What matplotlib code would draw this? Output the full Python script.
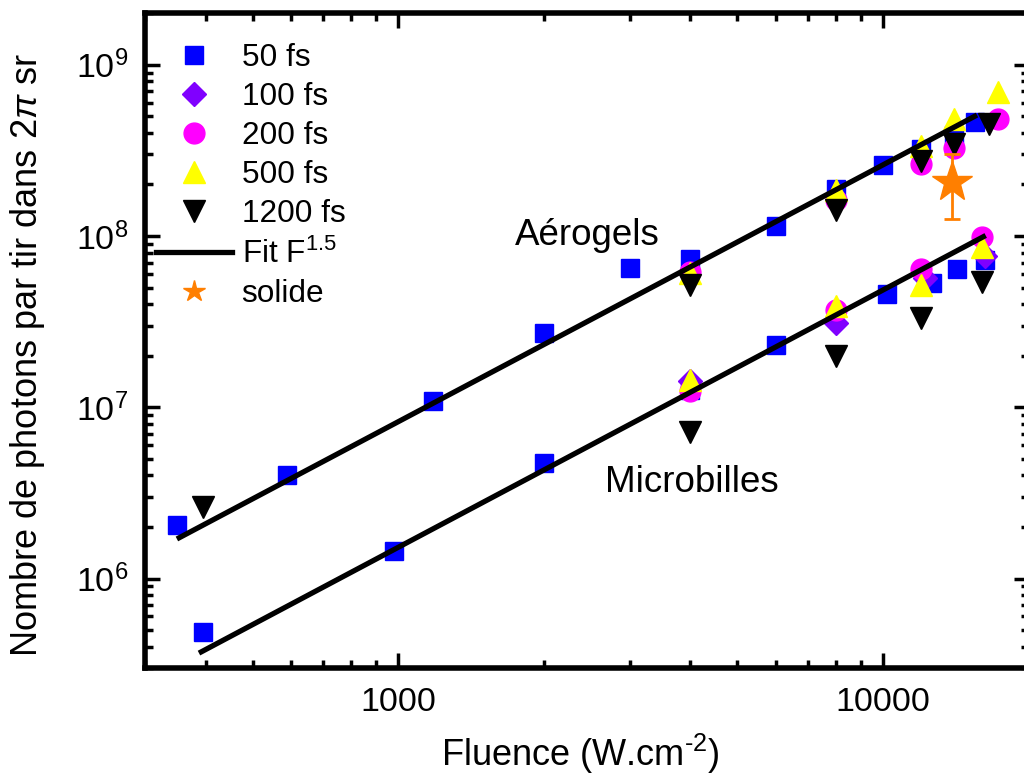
import matplotlib
matplotlib.use('Agg')
import matplotlib.pyplot as plt
from matplotlib.ticker import LogLocator, NullFormatter

plt.rcParams['font.family'] = ['Liberation Sans', 'DejaVu Sans']
plt.rcParams['mathtext.fontset'] = 'custom'
plt.rcParams['mathtext.rm'] = 'Liberation Sans'
plt.rcParams['mathtext.it'] = 'Liberation Sans:italic'

# Data (aerogels first, then microbilles)
fs50_x = [350, 590, 1180, 2000, 3000, 4000, 6000, 8000, 10000, 12000, 14000, 15500,
          395, 980, 2000, 4000, 6000, 10200, 12600, 14200, 16200]
fs50_y = [2.05e6, 4.0e6, 1.09e7, 2.7e7, 6.5e7, 7.3e7, 1.14e8, 1.87e8, 2.6e8, 3.2e8, 3.9e8, 4.6e8,
          4.9e5, 1.45e6, 4.7e6, 1.26e7, 2.3e7, 4.6e7, 5.3e7, 6.4e7, 7.2e7]

fs100_x = [4000, 8000, 12200, 16200]
fs100_y = [1.42e7, 3.1e7, 5.7e7, 7.6e7]

fs200_x = [4000, 8000, 12000, 14000, 17300,
           4000, 8000, 12000, 16000]
fs200_y = [6.2e7, 1.63e8, 2.62e8, 3.26e8, 4.8e8,
           1.24e7, 3.7e7, 6.4e7, 9.8e7]

fs500_x = [4000, 8000, 12000, 14000, 17300,
           4000, 8000, 12000, 16000]
fs500_y = [6.1e7, 1.86e8, 3.35e8, 4.8e8, 6.9e8,
           1.45e7, 3.9e7, 5.2e7, 8.6e7]

fs1200_x = [395, 4000, 8000, 12000, 14000, 16500,
            4000, 8000, 12000, 16000]
fs1200_y = [2.6e6, 5.2e7, 1.41e8, 2.74e8, 3.43e8, 4.5e8,
            7.2e6, 2.0e7, 3.3e7, 5.4e7]

# solid target
solide_x = [13850]
solide_y = [2.06e8]
solide_err_lo = [0.81e8]
solide_err_hi = [0.97e8]

# F^1.5 fits (end points)
fit_aero_x = [353, 15450]
fit_aero_y = [1.73e6, 5.0e8]
fit_micro_x = [392, 16100]
fit_micro_y = [3.73e5, 9.9e7]

fig = plt.figure(figsize=(10.24, 7.75), dpi=100)
ax = fig.add_axes([0.1416, 0.138, 0.8633, 0.845])
ax.set_xscale('log')
ax.set_yscale('log')

h50, = ax.plot(fs50_x, fs50_y, 's', color='#0000ff', ms=13.5, ls='none', label='50 fs')
h100, = ax.plot(fs100_x, fs100_y, 'D', color='#8000ff', ms=12.5, ls='none', label='100 fs')
h200, = ax.plot(fs200_x, fs200_y, 'o', color='#ff00ff', ms=15, ls='none', label='200 fs')
h500, = ax.plot(fs500_x, fs500_y, '^', color='#ffff00', ms=16.5, ls='none', label='500 fs')
h1200, = ax.plot(fs1200_x, fs1200_y, 'v', color='black', ms=16.5, ls='none', label='1200 fs')

hfit, = ax.plot(fit_aero_x, fit_aero_y, '-', color='black', lw=3.8, label='Fit F$^{1.5}$', zorder=4)
ax.plot(fit_micro_x, fit_micro_y, '-', color='black', lw=3.8, zorder=4)

ax.errorbar(solide_x, solide_y, yerr=[solide_err_lo, solide_err_hi], fmt='*', color='#ff7f00',
            ms=30, elinewidth=2, capsize=6, capthick=2, zorder=5)
hsol, = ax.plot([], [], '*', color='#ff7f00', ms=16, ls='none', label='solide')

ax.text(2450, 8.9e7, 'Aérogels', fontsize=26.5, ha='center', va='baseline')
ax.text(4030, 3.2e6, 'Microbilles', fontsize=26.5, ha='center', va='baseline')

ax.set_xlim(300, 20000)
ax.set_ylim(3e5, 2e9)

ax.set_xticks([1000, 10000])
ax.set_xticklabels(['1000', '10000'])
ax.xaxis.set_minor_locator(LogLocator(base=10, subs=range(2, 10)))
ax.xaxis.set_minor_formatter(NullFormatter())
ax.yaxis.set_major_locator(LogLocator(base=10))
ax.yaxis.set_minor_locator(LogLocator(base=10, subs=range(2, 10)))
ax.yaxis.set_minor_formatter(NullFormatter())

ax.tick_params(which='both', direction='in', top=True, right=True, width=2.5, labelsize=24.5)
ax.tick_params(which='major', length=11)
ax.tick_params(which='minor', length=5.5)
ax.tick_params(axis='x', pad=14)
ax.tick_params(axis='y', pad=12)
for sp in ax.spines.values():
    sp.set_linewidth(4)

ax.set_xlabel('Fluence (W.cm$^{\\text{-}2}$)', fontsize=26)
ax.set_ylabel('Nombre de photons par tir dans 2$\\pi$ sr', fontsize=26)
ax.xaxis.label.set_va('baseline')
ax.xaxis.set_label_coords(0.4927, -0.1496)
ax.yaxis.set_label_coords(-0.111, 0.478)

ax.legend(handles=[h50, h100, h200, h500, h1200, hfit, hsol], loc='upper left',
          bbox_to_anchor=(0.013, 0.955), frameon=False, fontsize=22.7, borderpad=0,
          borderaxespad=0, handlelength=2.4, handletextpad=0.3, labelspacing=0.29)

fig.savefig('out.png', dpi=100)
